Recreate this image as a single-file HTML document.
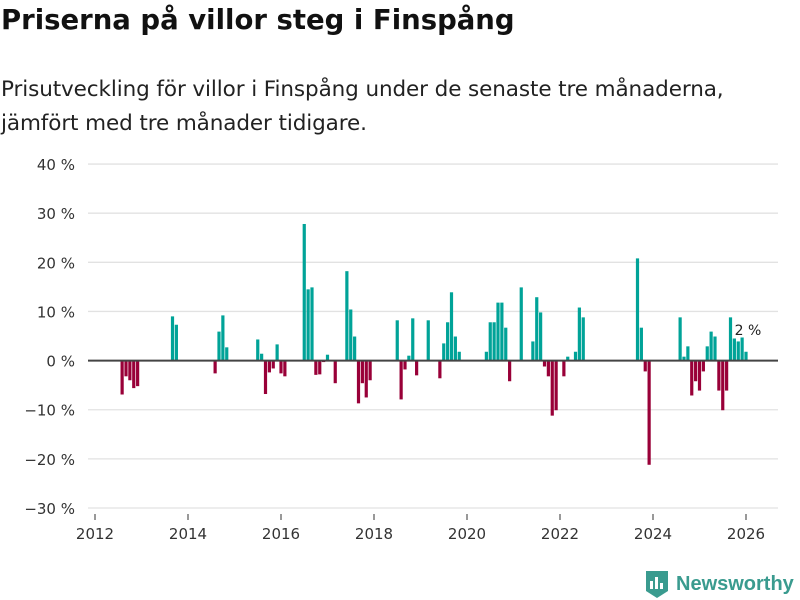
<!DOCTYPE html>
<html><head><meta charset="utf-8"><style>
body{margin:0;width:800px;height:600px;background:#fff;font-family:"DejaVu Sans","Liberation Sans",sans-serif;overflow:hidden;position:relative}
#title{position:absolute;left:1px;top:4px;font-size:27.5px;font-weight:bold;color:#111;letter-spacing:0px}
#sub{position:absolute;left:1px;top:73px;font-size:21.5px;line-height:34px;color:#222;letter-spacing:-0.1px;white-space:nowrap}
svg{position:absolute;left:0;top:0}
#logo{position:absolute;left:644px;top:569px;display:flex;align-items:center;color:#3a9b8f;font-size:20px;font-weight:bold;font-family:"Liberation Sans",sans-serif}
</style></head><body>
<div id="title">Priserna på villor steg i Finspång</div>
<div id="sub">Prisutveckling för villor i Finspång under de senaste tre månaderna,<br>jämfört med tre månader tidigare.</div>
<svg id="chart" width="800" height="600"></svg>
<div id="logo"><svg width="26" height="30" viewBox="0 0 26 30" style="position:static;margin-right:6px"><path d="M2 2h22v20l-11 7-11-7z" fill="#3a9b8f"/><rect x="6" y="12" width="3" height="8" fill="#fff"/><rect x="11" y="8" width="3" height="12" fill="#fff"/><rect x="16" y="14" width="3" height="6" fill="#fff"/></svg><span>Newsworthy</span></div>
<script>
const months=[7,8,9,10,11,20,21,31,32,33,34,42,43,44,45,46,47,48,49,54,55,56,57,58,59,60,62,65,66,67,68,69,70,71,78,79,80,81,82,83,86,89,90,91,92,93,94,101,102,103,104,105,106,107,110,113,114,115,116,117,118,119,121,122,124,125,126,140,141,142,143,151,152,153,154,155,156,157,158,159,160,161,162,163,164,165,166,167,168];
const values=[-6.9,-3.2,-4,-5.6,-5.2,9.0,7.3,-2.6,5.9,9.2,2.7,4.3,1.4,-6.8,-2.4,-1.6,3.3,-2.6,-3.2,27.8,14.5,14.9,-2.9,-2.8,-0.3,1.2,-4.6,18.2,10.4,4.9,-8.7,-4.6,-7.5,-4.0,8.2,-7.9,-1.8,1.0,8.6,-3.0,8.2,-3.6,3.5,7.8,13.9,4.9,1.8,1.8,7.8,7.8,11.8,11.8,6.7,-4.2,14.9,3.9,12.9,9.8,-1.2,-3.2,-11.2,-10.1,-3.2,0.8,1.8,10.8,8.8,20.8,6.7,-2.2,-21.2,8.8,0.8,2.9,-7.1,-4.2,-6.1,-2.2,2.9,5.9,4.9,-6.1,-10.1,-6.1,8.8,4.5,3.9,4.7,1.8];
const yTicks=[40,30,20,10,0,-10,-20,-30];
const xTicks=[2012,2014,2016,2018,2020,2022,2024,2026];
const svg=document.getElementById('chart');const NS='http://www.w3.org/2000/svg';
const y=v=>360.6-v*4.914;
const x=m=>95+m*3.875;
function mk(t,a){const e=document.createElementNS(NS,t);for(const k in a)e.setAttribute(k,a[k]);svg.appendChild(e);return e;}
yTicks.forEach(t=>{
 const l=mk('line',{x1:88,x2:778,y1:y(t),y2:y(t),stroke:'#e2e2e2','stroke-width':1.3});
 
 
 const tx=mk('text',{x:75,y:y(t)+6,'text-anchor':'end','font-size':15,fill:'#333','font-family':'DejaVu Sans,sans-serif'});
 tx.textContent=(t<0?'\u2212'+(-t):t)+' %';
 
 
});
xTicks.forEach(t=>{
 const xx=x((t-2012)*12);
 const l=mk('line',{x1:xx,x2:xx,y1:514,y2:520,stroke:'#333','stroke-width':1});
 
 
 const tx=mk('text',{x:xx,y:539,'text-anchor':'middle','font-size':15,fill:'#333','font-family':'DejaVu Sans,sans-serif'});
 tx.textContent=t;
 
 
});
months.forEach((m,i)=>{
 const v=values[i];const y0=y(0),y1=y(v);
 const r=mk('rect',{x:x(m)-1.6,width:3.2,y:Math.min(y0,y1),height:Math.abs(y1-y0),fill:v>=0?'#00a398':'#990038'});
 
 
});
const z=mk('line',{x1:88,x2:778,y1:y(0),y2:y(0),stroke:'#444','stroke-width':2});


const last=values[values.length-1];
const lb=mk('text',{x:x(months[months.length-1])+2,y:335,'text-anchor':'middle','font-size':14,fill:'#222',stroke:'#fff','stroke-width':3,'paint-order':'stroke','font-family':'DejaVu Sans,sans-serif'});
lb.textContent=Math.round(last)+' %';


</script>
</body></html>
